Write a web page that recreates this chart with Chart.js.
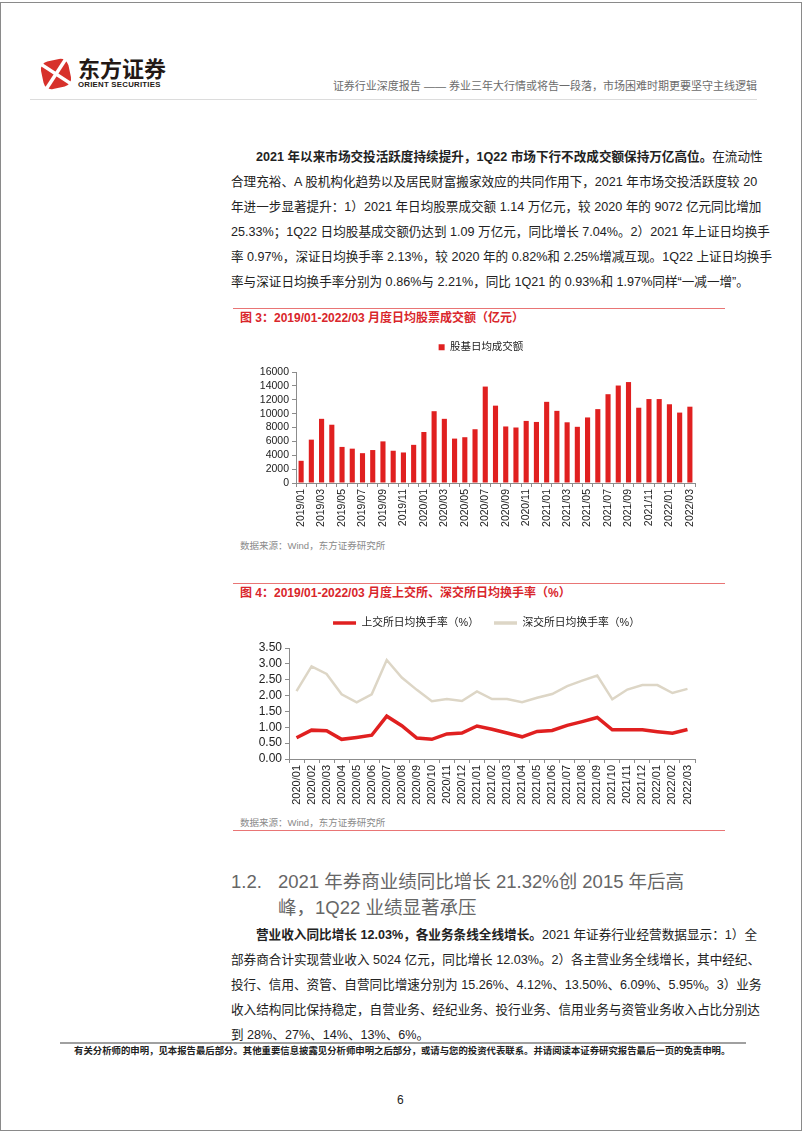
<!DOCTYPE html>
<html>
<head>
<meta charset="utf-8">
<script src="https://cdn.jsdelivr.net/npm/chart.js@4.4.1/dist/chart.umd.min.js"></script>
<style>
body{margin:0;width:802px;height:1133px;position:relative;background:#fff;overflow:hidden;
  font-family:"Liberation Sans","Noto Sans CJK SC",sans-serif;color:#222}
.a{position:absolute;white-space:nowrap}
.frame{left:0;top:2px;width:800px;height:1127px;border:1px solid #8a8a8a}
.para{left:231px;width:526px;font-size:12.6px;color:#222}
.para div{height:25px;line-height:25px;text-align:justify;text-align-last:justify;white-space:nowrap}
.para div.last{text-align-last:left}
.para div.ind{padding-left:25px}
.ctitle{left:240px;font-size:12px;line-height:16px;font-weight:bold;color:#D9262B}
.rline{left:233px;width:492px;height:1px;background:#E97575}
.src{left:240px;font-size:9.5px;line-height:12px;color:#8a8a8a}
.h2{font-size:18.5px;line-height:26px;color:#666}
canvas{position:absolute}
</style>
</head>
<body>
<div class="a frame"></div>

<!-- header -->
<svg class="a" style="left:39px;top:57px" width="34" height="34" viewBox="0 0 34 34">
  <g transform="rotate(-12 17 17)">
    <rect x="3" y="3" width="28" height="28" rx="8" fill="#D7312B"/>
    <line x1="2" y1="2" x2="32" y2="32" stroke="#fff" stroke-width="3.5"/>
    <line x1="32" y1="2" x2="2" y2="32" stroke="#fff" stroke-width="3.5"/>
  </g>
</svg>
<div class="a" style="left:78px;top:56px;font-size:22px;line-height:22px;font-weight:bold;color:#231815;font-family:'Noto Sans CJK SC'">东方证券</div>
<div class="a" style="left:78px;top:81px;font-size:7.8px;line-height:8px;font-weight:bold;color:#231815;letter-spacing:0.25px">ORIENT SECURITIES</div>
<div class="a" style="right:45px;top:79px;font-size:11px;line-height:14px;color:#6b6b6b">证券行业深度报告 —— 券业三年大行情或将告一段落，市场困难时期更要坚守主线逻辑</div>
<div class="a" style="left:30px;top:99px;width:727px;height:1px;background:#dcdcdc"></div>

<!-- paragraph 1 -->
<div class="a para" style="top:145px">
  <div class="ind"><b>2021 年以来市场交投活跃度持续提升，1Q22 市场下行不改成交额保持万亿高位。</b>在流动性</div>
  <div>合理充裕、A 股机构化趋势以及居民财富搬家效应的共同作用下，2021 年市场交投活跃度较 20</div>
  <div>年进一步显著提升：1）2021 年日均股票成交额 1.14 万亿元，较 2020 年的 9072 亿元同比增加</div>
  <div>25.33%；1Q22 日均股基成交额仍达到 1.09 万亿元，同比增长 7.04%。2）2021 年上证日均换手</div>
  <div>率 0.97%，深证日均换手率 2.13%，较 2020 年的 0.82%和 2.25%增减互现。1Q22 上证日均换手</div>
  <div class="last">率与深证日均换手率分别为 0.86%与 2.21%，同比 1Q21 的 0.93%和 1.97%同样“一减一增”。</div>
</div>

<!-- figure 3 -->
<div class="a rline" style="top:308px"></div>
<div class="a ctitle" style="top:310px">图 3：2019/01-2022/03 月度日均股票成交额（亿元）</div>
<canvas id="c1" width="490" height="207" style="left:232px;top:331px"></canvas>
<div class="a src" style="top:540px">数据来源：Wind，东方证券研究所</div>

<!-- figure 4 -->
<div class="a rline" style="top:583px"></div>
<div class="a ctitle" style="top:585px">图 4：2019/01-2022/03 月度上交所、深交所日均换手率（%）</div>
<canvas id="c2" width="490" height="215" style="left:232px;top:599px"></canvas>
<div class="a src" style="top:817px">数据来源：Wind，东方证券研究所</div>
<div class="a rline" style="top:830px"></div>

<!-- section heading -->
<div class="a h2" style="left:231px;top:869px">1.2.</div>
<div class="a h2" style="left:278px;top:869px">2021 年券商业绩同比增长 21.32%创 2015 年后高</div>
<div class="a h2" style="left:278px;top:895px">峰，1Q22 业绩显著承压</div>

<!-- paragraph 2 -->
<div class="a para" style="top:923px">
  <div class="ind"><b>营业收入同比增长 12.03%，各业务条线全线增长。</b>2021 年证券行业经营数据显示：1）全</div>
  <div>部券商合计实现营业收入 5024 亿元，同比增长 12.03%。2）各主营业务全线增长，其中经纪、</div>
  <div>投行、信用、资管、自营同比增速分别为 15.26%、4.12%、13.50%、6.09%、5.95%。3）业务</div>
  <div>收入结构同比保持稳定，自营业务、经纪业务、投行业务、信用业务与资管业务收入占比分别达</div>
  <div class="last">到 28%、27%、14%、13%、6%。</div>
</div>

<!-- footer -->
<div class="a" style="left:60px;top:1042px;width:686px;height:2px;background:#a0a0a0"></div>
<div class="a" style="left:74px;top:1045px;font-size:9.4px;line-height:12px;font-weight:bold;color:#222">有关分析师的申明，见本报告最后部分。其他重要信息披露见分析师申明之后部分，或请与您的投资代表联系。并请阅读本证券研究报告最后一页的免责申明。</div>
<div class="a" style="left:397px;top:1093px;font-size:12px;line-height:14px;color:#222">6</div>

<script>
// ---- 图3 data ----
const months1 = [
  "2019/01","2019/02","2019/03","2019/04","2019/05","2019/06","2019/07","2019/08","2019/09","2019/10","2019/11","2019/12",
  "2020/01","2020/02","2020/03","2020/04","2020/05","2020/06","2020/07","2020/08","2020/09","2020/10","2020/11","2020/12",
  "2021/01","2021/02","2021/03","2021/04","2021/05","2021/06","2021/07","2021/08","2021/09","2021/10","2021/11","2021/12",
  "2022/01","2022/02","2022/03"
];
const turnover = [
  3200, 6250, 9250, 8400, 5200, 4950, 4300, 4750, 6000, 4650, 4400, 5500,
  7350, 10350, 9250, 6400, 6600, 7750, 13900, 11150, 8150, 8000, 8950, 8800,
  11700, 10400, 8750, 8100, 9450, 10650, 12800, 14050, 14550, 10850, 12100, 12100,
  11350, 10150, 11000
];

// ---- 图4 data ----
const months2 = [
  "2020/01","2020/02","2020/03","2020/04","2020/05","2020/06","2020/07","2020/08","2020/09","2020/10","2020/11","2020/12",
  "2021/01","2021/02","2021/03","2021/04","2021/05","2021/06","2021/07","2021/08","2021/09","2021/10","2021/11","2021/12",
  "2022/01","2022/02","2022/03"
];
const shRate = [
  0.67, 0.91, 0.89, 0.62, 0.68, 0.75, 1.35, 1.05, 0.66, 0.62, 0.79, 0.82,
  1.04, 0.94, 0.82, 0.70, 0.87, 0.90, 1.06, 1.18, 1.31, 0.92, 0.92, 0.92,
  0.86, 0.81, 0.93
];
const szRate = [
  2.14, 2.92, 2.68, 2.04, 1.79, 2.04, 3.12, 2.57, 2.18, 1.82, 1.89, 1.83,
  2.13, 1.89, 1.89, 1.79, 1.93, 2.05, 2.30, 2.47, 2.63, 1.88, 2.19, 2.33,
  2.33, 2.08, 2.21
];

const RED = "#E02020";
const BEIGE = "#DDD6C6";
const AXIS = "#8c8c8c";
const FONT = "'Liberation Sans', 'Noto Sans CJK SC', sans-serif";

Chart.defaults.font.family = FONT;
Chart.defaults.color = "#222";

// legend takes no room in the layout (plot top comes from layout.padding.top);
// it is then put at a fixed y and nudged right like in the original
const legendAt = (y, dx) => ({
  id: "legendAt",
  beforeInit(chart) {
    const fit = chart.legend.fit;
    chart.legend.fit = function () {
      fit.call(this);
      this._h = this.height;
      this.height = 0;
    };
  },
  afterLayout(chart) {
    const lg = chart.legend;
    lg.top = y;
    lg.height = lg._h;
    lg.bottom = y + lg._h;
    lg.left += dx;
    lg.right += dx;
  }
});

// ==========================
// Bar chart
// ==========================
new Chart(document.getElementById("c1"), {
  type: "bar",
  data: {
    labels: months1,
    datasets: [{
      label: "股基日均成交额",
      data: turnover,
      backgroundColor: RED,
      barPercentage: 0.5,
      categoryPercentage: 1
    }]
  },
  options: {
    responsive: false,
    animation: false,
    layout: { padding: { top: 41, right: 27 } },
    plugins: {
      legend: {
        labels: { boxWidth: 6, boxHeight: 6, padding: 10, font: { size: 10.5 } }
      },
      tooltip: { enabled: false }
    },
    scales: {
      x: {
        grid: { drawOnChartArea: false, offset: true, color: AXIS, tickLength: 4 },
        border: { color: AXIS },
        ticks: {
          autoSkip: false, minRotation: 90, maxRotation: 90, padding: 2,
          font: { size: 10.5 },
          callback: (v, i) => (i % 2 === 0 ? months1[i] : "")
        },
        afterFit: s => { s.height = 55; }
      },
      y: {
        min: 0, max: 16000,
        ticks: {
          stepSize: 2000, autoSkip: false, padding: 3,
          font: { size: 10.5, lineHeight: 1 },
          callback: v => String(v)
        },
        grid: { drawOnChartArea: false, color: AXIS, tickLength: 4 },
        border: { color: AXIS },
        afterFit: s => { s.width = 64; }
      }
    }
  },
  plugins: [legendAt(1, 17.5)]
});

// ==========================
// Line chart
// ==========================
new Chart(document.getElementById("c2"), {
  type: "line",
  data: {
    labels: months2,
    datasets: [{
      label: "上交所日均换手率（%）",
      data: shRate,
      borderColor: RED,
      backgroundColor: RED,
      borderWidth: 3.5,
      pointRadius: 0
    }, {
      label: "深交所日均换手率（%）",
      data: szRate,
      borderColor: BEIGE,
      backgroundColor: BEIGE,
      borderWidth: 2.5,
      pointRadius: 0
    }]
  },
  options: {
    responsive: false,
    animation: false,
    layout: { padding: { top: 49, right: 27 } },
    plugins: {
      legend: {
        labels: {
          boxWidth: 23, boxHeight: 3.5, padding: 15, font: { size: 10.8 },
          generateLabels: chart =>
            Chart.defaults.plugins.legend.labels.generateLabels(chart).map(l => ({ ...l, lineWidth: 0 }))
        }
      },
      tooltip: { enabled: false }
    },
    scales: {
      x: {
        offset: true,
        grid: { drawOnChartArea: false, offset: true, color: AXIS, tickLength: 4 },
        border: { color: AXIS },
        ticks: { autoSkip: false, minRotation: 90, maxRotation: 90, padding: 2, font: { size: 11 } },
        afterFit: s => { s.height = 55; }
      },
      y: {
        min: 0, max: 3.5,
        ticks: {
          stepSize: 0.5, autoSkip: false, padding: 3,
          font: { size: 12, lineHeight: 1 },
          callback: v => v.toFixed(2)
        },
        grid: { drawOnChartArea: false, color: AXIS, tickLength: 4 },
        border: { color: AXIS },
        afterFit: s => { s.width = 57; }
      }
    }
  },
  plugins: [legendAt(3.6, 23)]
});
</script>
</body>
</html>
